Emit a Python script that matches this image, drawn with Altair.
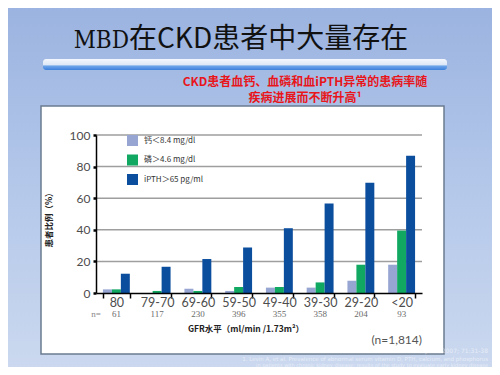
import altair as alt
import pandas as pd

categories = ["80", "79-70", "69-60", "59-50", "49-40", "39-30", "29-20", "<20"]
n_values = ["61", "117", "230", "396", "355", "358", "204", "93"]
series = ["钙＜8.4 mg/dl", "磷＞4.6 mg/dl", "iPTH＞65 pg/ml"]
calcium = [2.3, 0.0, 2.7, 1.3, 3.4, 3.4, 7.8, 17.9]
phosphorus = [2.3, 1.3, 1.3, 3.8, 3.8, 6.7, 17.9, 39.5]
ipth = [12.2, 16.6, 21.5, 28.8, 41.0, 56.6, 69.7, 86.9]
colors = ["#97A5D3", "#11A862", "#0B4E9E"]
y_ticks = [0, 20, 40, 60, 80, 100]
grid_lines = [20, 40, 60, 80, 100]

title_a = "MBD"
title_b = "在CKD患者中大量存在"
sub1 = "CKD患者血钙、血磷和血iPTH异常的患病率随"
sub2 = "疾病进展而不断升高¹"
y_title = "患者比例（%）"
x_title = "GFR水平（ml/min /1.73m²）"
total_n = "(n=1,814)"
refs = [
    "Kidney Int. 2007; 71:31-38",
    "1. Levin A, et al. Prevalence of abnormal serum vitamin D, PTH, calcium, and phosphorus",
    "in patients with chronic kidney disease: results of the study to evaluate early kidney disease",
]

rows = []
for vals, s in zip([calcium, phosphorus, ipth], series):
    for c, v in zip(categories, vals):
        rows.append({"cat": c, "series": s, "value": v})
df = pd.DataFrame(rows)
ndf = pd.DataFrame({"cat": categories, "n": n_values})
gdf = pd.DataFrame({"value": grid_lines})
one = pd.DataFrame({"a": [0]})

W, H = 326, 158

xaxis = alt.Axis(title=None, labelAngle=0, tickBand="extent", grid=False,
                 domainColor="black", domainWidth=1.5,
                 tickColor="black", tickWidth=1.5, tickSize=5,
                 labelFont="Lato", labelFontSize=12.5,
                 labelColor="#4d4d4d", labelPadding=-2, zindex=2)
yaxis = alt.Axis(title=None, values=y_ticks, grid=False, labelOverlap=False,
                 domainColor="black", domainWidth=1.5,
                 tickColor="black", tickWidth=2.5, tickSize=3,
                 labelFont="Lato", labelFontSize=12,
                 labelColor="#4d4d4d", labelPadding=3, zindex=2)
xscale = alt.Scale(paddingInner=0.34, paddingOuter=0.17)
yscale = alt.Scale(domain=[0, 100], nice=False)

bg = alt.Chart(one).mark_rect(
    color=alt.LinearGradient(
        gradient="linear",
        stops=[alt.GradientStop(color="#9BB3E0", offset=0),
               alt.GradientStop(color="#B4C8EA", offset=0.5),
               alt.GradientStop(color="#CCD9EF", offset=1)],
        x1=0, x2=0, y1=0, y2=1)
).encode(x=alt.value(-90), x2=alt.value(400), y=alt.value(-130), y2=alt.value(240))

band = alt.Chart(one).mark_rect(
    cornerRadius=3,
    color=alt.LinearGradient(
        gradient="linear",
        stops=[alt.GradientStop(color="#F4F7FC", offset=0),
               alt.GradientStop(color="#DCE6F5", offset=0.55),
               alt.GradientStop(color="#6FA6EA", offset=0.62),
               alt.GradientStop(color="#3D80DA", offset=1)],
        x1=0, x2=0, y1=0, y2=1)
).encode(x=alt.value(-53), x2=alt.value(351), y=alt.value(-76), y2=alt.value(-65))

box = alt.Chart(one).mark_rect(
    fill="white", stroke="#6B7C90", strokeWidth=1.5
).encode(x=alt.value(-55), x2=alt.value(348), y=alt.value(-29), y2=alt.value(219))

t_a = alt.Chart(one).mark_text(
    text=title_a, font="DejaVu Serif Condensed", fontSize=24, align="right",
    baseline="middle", color="#111"
).encode(x=alt.value(33), y=alt.value(-94))
t_b = alt.Chart(one).mark_text(
    text=title_b, font="Noto Sans CJK SC", fontSize=28, align="left",
    baseline="middle", color="#111"
).encode(x=alt.value(33), y=alt.value(-95))

s1 = alt.Chart(one).mark_text(
    text=sub1, font="Noto Sans CJK SC", fontSize=12, fontWeight="bold",
    align="center", baseline="middle", color="#E8161B"
).encode(x=alt.value(209), y=alt.value(-53))
s2 = alt.Chart(one).mark_text(
    text=sub2, font="Noto Sans CJK SC", fontSize=12, fontWeight="bold",
    align="center", baseline="middle", color="#E8161B"
).encode(x=alt.value(209), y=alt.value(-37))

grid = alt.Chart(gdf).mark_rule(color="#9E9E9E", strokeWidth=1.5).encode(
    y=alt.Y("value:Q", scale=yscale, axis=yaxis)
)

bars = alt.Chart(df).mark_bar().encode(
    x=alt.X("cat:N", sort=categories, scale=xscale, axis=xaxis),
    xOffset=alt.XOffset("series:N", sort=series,
                        scale=alt.Scale(paddingInner=0, paddingOuter=0)),
    y=alt.Y("value:Q", scale=yscale, axis=yaxis),
    color=alt.Color("series:N", sort=series,
                    scale=alt.Scale(domain=series, range=colors),
                    legend=alt.Legend(title=None, orient="none",
                                      legendX=31, legendY=0,
                                      symbolType="square", symbolSize=121,
                                      symbolStrokeWidth=0, symbolOpacity=1,
                                      labelFont="Noto Sans CJK SC",
                                      labelFontSize=8, labelColor="#333",
                                      labelOffset=6, rowPadding=8.5,
                                      padding=0, zindex=2)),
)

ntext = alt.Chart(ndf).mark_text(
    font="Liberation Serif", fontSize=9, color="#6a6a6a", baseline="middle"
).encode(
    x=alt.X("cat:N", sort=categories, scale=xscale, axis=xaxis),
    y=alt.value(179),
    text="n:N",
)
nlab = alt.Chart(one).mark_text(
    text="n=", font="Liberation Serif", fontSize=9, color="#888",
    baseline="middle", align="center"
).encode(x=alt.value(0), y=alt.value(179))

ytitle = alt.Chart(one).mark_text(
    text=y_title, font="Noto Sans CJK SC", fontSize=8.5, fontWeight="bold",
    angle=270, align="center", baseline="middle", color="#222"
).encode(x=alt.value(-47), y=alt.value(83))
xtitle = alt.Chart(one).mark_text(
    text=x_title, font="Noto Sans CJK SC", fontSize=8.5, fontWeight="bold",
    align="center", baseline="middle", color="#222"
).encode(x=alt.value(150), y=alt.value(194))
ntot = alt.Chart(one).mark_text(
    text=total_n, font="Lato", fontSize=12, color="#555",
    align="right", baseline="middle"
).encode(x=alt.value(326), y=alt.value(205))

ref_layers = []
for txt, yy, fs in zip(refs, [216, 223.5, 229.5], [6, 5.5, 5]):
    ref_layers.append(alt.Chart(one).mark_text(
        text=txt, fontSize=fs, color="white", opacity=0.55,
        align="right", baseline="middle", font="DejaVu Sans"
    ).encode(x=alt.value(392), y=alt.value(yy)))

chart = alt.layer(
    bg, band, box, t_a, t_b, s1, s2, grid, bars, ntext, nlab, ytitle, xtitle,
    ntot, *ref_layers
).resolve_scale(x="shared").properties(
    width=W, height=H,
    padding={"left": 88, "top": 127, "right": 70, "bottom": 74},
    autosize="none",
).configure_view(stroke=None).configure(background="#CCD9EF")

chart.save("out.html", embed_options={"renderer": "svg", "actions": False})
